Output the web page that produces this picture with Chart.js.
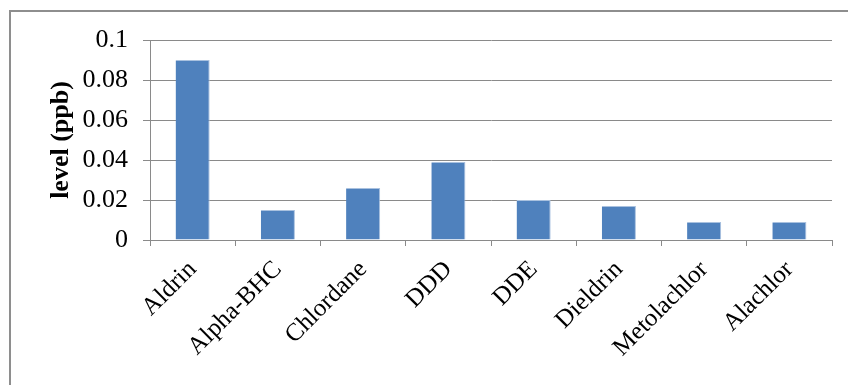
<!DOCTYPE html>
<html>
<head>
<meta charset="utf-8">
<script src="https://cdn.jsdelivr.net/npm/chart.js@4/dist/chart.umd.min.js"></script>
<style>
  html, body { margin: 0; padding: 0; background: #ffffff; }
  body { width: 848px; height: 385px; position: relative; overflow: hidden; }
  #frame {
    position: absolute; left: 9px; top: 10px; width: 900px; height: 420px;
    border-left: 2px solid #8e8e8e; border-top: 2px solid #8e8e8e;
    box-sizing: border-box;
  }
  #chart { position: absolute; left: 0; top: 0; }
</style>
</head>
<body>
<div id="frame"></div>
<canvas id="chart" width="848" height="385"></canvas>
<script>
// Pesticide residue levels
const categories = ['Aldrin', 'Alpha-BHC', 'Chlordane', 'DDD', 'DDE', 'Dieldrin', 'Metolachlor', 'Alachlor'];
const levels = [0.09, 0.015, 0.026, 0.039, 0.02, 0.017, 0.009, 0.009];
const yTicks = [0, 0.02, 0.04, 0.06, 0.08, 0.1];
const yTitle = 'level (ppb)';

const gridColor = '#8a8a8a';
const serif = "'Liberation Serif', 'Times New Roman', Times, serif";

new Chart(document.getElementById('chart'), {
  type: 'bar',
  data: {
    labels: categories,
    datasets: [{
      data: levels,
      backgroundColor: '#4f81bd',
      borderColor: '#a9c1df',
      borderWidth: { top: 1, right: 1, left: 0, bottom: 0 },
      barPercentage: 0.4,
      categoryPercentage: 1.0
    }]
  },
  options: {
    responsive: false,
    animation: false,
    devicePixelRatio: 1,
    layout: { padding: { top: 40, right: 16, bottom: 0, left: 0 } },
    plugins: { legend: { display: false }, tooltip: { enabled: false } },
    scales: {
      x: {
        offset: true,
        grid: { display: true, drawOnChartArea: false, drawTicks: true, tickLength: 6, color: gridColor, offset: true },
        border: { display: true, color: gridColor, width: 1 },
        ticks: {
          color: '#000',
          font: { family: serif, size: 25 },
          minRotation: 45, maxRotation: 45,
          padding: 9,
          autoSkip: false
        },
        afterFit: (s) => { s.height = 145; }
      },
      y: {
        min: 0, max: 0.1,
        afterBuildTicks: (s) => { s.ticks = yTicks.map(v => ({ value: v })); },
        grid: { color: gridColor, tickLength: 7, lineWidth: 1 },
        border: { display: true, color: gridColor, width: 1 },
        ticks: {
          color: '#000',
          font: { family: serif, size: 26 },
          padding: 15,
          callback: (v) => String(v)
        },
        title: {
          display: true,
          text: yTitle,
          color: '#000',
          font: { family: serif, size: 26, weight: 'bold' },
          padding: { top: 46, bottom: 0 }
        },
        afterFit: (s) => { s.width = 150; }
      }
    }
  }
});
</script>
</body>
</html>
